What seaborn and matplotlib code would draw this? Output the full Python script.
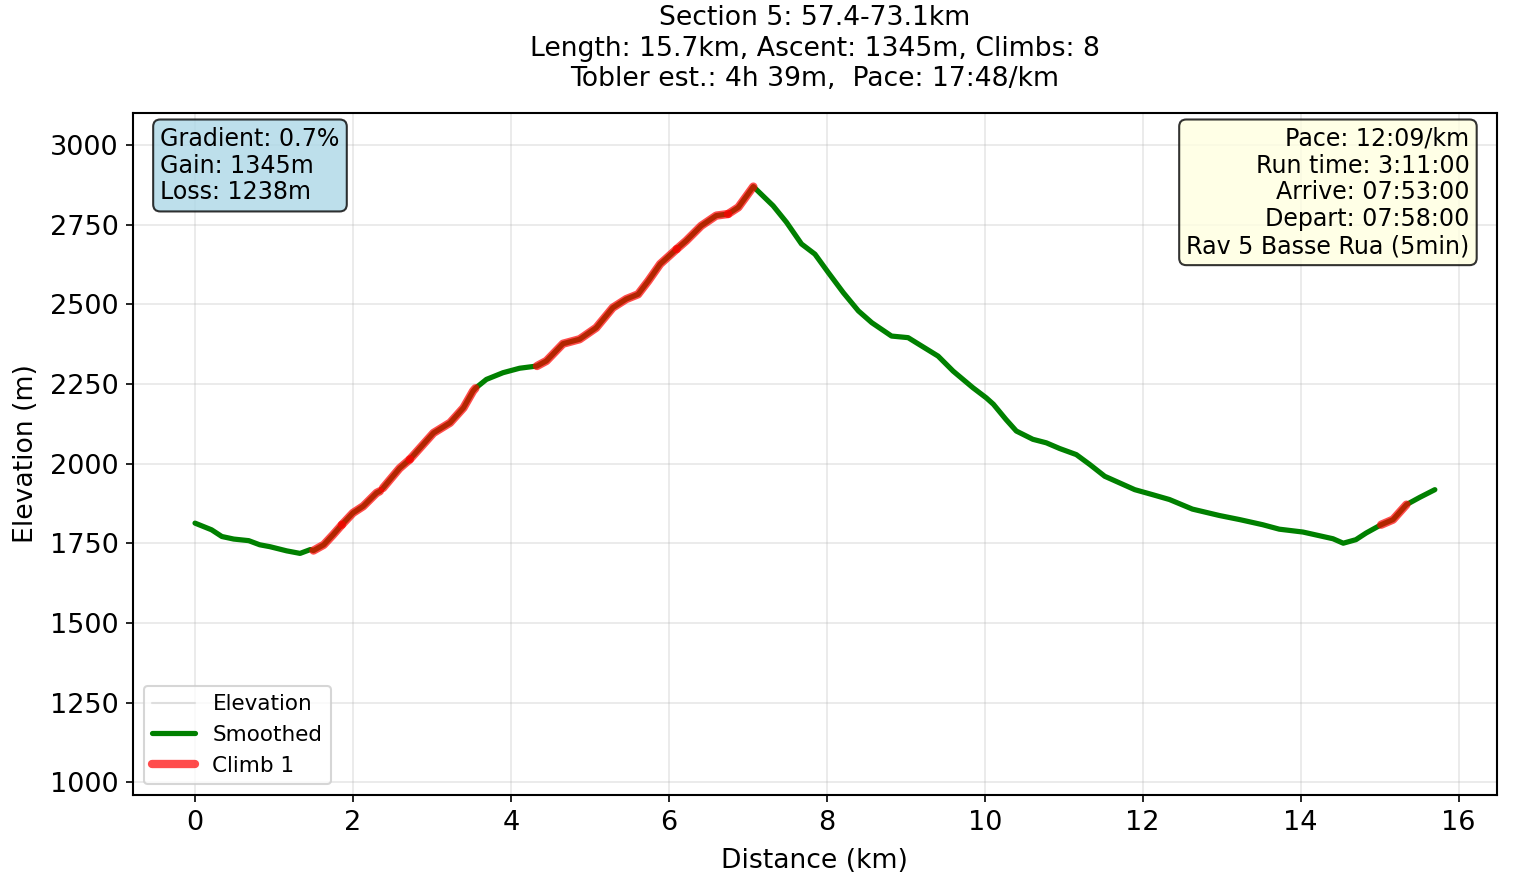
import numpy as np
import pandas as pd
import matplotlib
matplotlib.use("Agg")
import matplotlib.pyplot as plt
from matplotlib.ticker import MultipleLocator
import seaborn as sns

# ---- data ----
distance_km = [0.00, 0.21, 0.34, 0.49, 0.68, 0.82, 0.95, 1.16, 1.33, 1.46, 1.50,
               1.63, 1.75, 1.86, 2.00, 2.13, 2.30, 2.34, 2.38, 2.59, 2.72, 3.02,
               3.23, 3.40, 3.52, 3.55, 3.69, 3.90, 4.11, 4.33, 4.45, 4.66, 4.87,
               5.08, 5.29, 5.46, 5.61, 5.74, 5.89, 6.10, 6.22, 6.41, 6.60, 6.75,
               6.88, 7.07, 7.32, 7.49, 7.68, 7.85, 8.02, 8.21, 8.40, 8.57, 8.82,
               9.03, 9.20, 9.41, 9.60, 9.85, 10.02, 10.11, 10.27, 10.40, 10.61,
               10.78, 10.95, 11.16, 11.33, 11.52, 11.71, 11.90, 12.13, 12.34,
               12.63, 12.97, 13.23, 13.52, 13.73, 14.03, 14.41, 14.54, 14.70,
               14.83, 15.02, 15.17, 15.34, 15.51, 15.70]
elevation_m = [1813, 1792, 1771, 1763, 1758, 1745, 1739, 1726, 1718, 1730, 1727,
               1745, 1777, 1808, 1845, 1866, 1908, 1913, 1923, 1985, 2013, 2096,
               2128, 2175, 2227, 2236, 2264, 2285, 2299, 2306, 2322, 2376, 2390,
               2426, 2489, 2516, 2531, 2573, 2626, 2673, 2699, 2746, 2778, 2783,
               2804, 2869, 2809, 2757, 2689, 2657, 2599, 2536, 2479, 2442, 2400,
               2395, 2369, 2337, 2290, 2238, 2206, 2186, 2138, 2102, 2076,
               2065, 2047, 2028, 1997, 1960, 1939, 1918, 1902, 1887,
               1857, 1837, 1824, 1808, 1794, 1785, 1764, 1750, 1761,
               1782, 1808, 1824, 1871, 1894, 1918]
smoothed_m = elevation_m

climb_start_km = [1.50, 1.86, 2.38, 2.72, 4.33, 6.10, 6.75, 15.02]
climb_end_km = [1.86, 2.34, 2.72, 3.55, 6.10, 6.75, 7.07, 15.34]

title_lines = ["Section 5: 57.4-73.1km",
               "Length: 15.7km, Ascent: 1345m, Climbs: 8",
               "Tobler est.: 4h 39m,  Pace: 17:48/km"]
stats_lines = ["Gradient: 0.7%", "Gain: 1345m", "Loss: 1238m"]
info_lines = ["Pace: 12:09/km", "Run time: 3:11:00", "Arrive: 07:53:00",
              "Depart: 07:58:00", "Rav 5 Basse Rua (5min)"]

df = pd.DataFrame({"km": distance_km, "elev": elevation_m, "smooth": smoothed_m})

# ---- plot ----
sns.set_style("ticks", rc={
    "text.color": "black", "axes.labelcolor": "black",
    "xtick.color": "black", "ytick.color": "black",
    "axes.edgecolor": "black", "grid.color": "#b0b0b0",
    "xtick.major.size": 3.5, "ytick.major.size": 3.5,
})
plt.rcParams["font.family"] = ["DejaVu Sans"]

fig, ax = plt.subplots(figsize=(10.193, 5.887), dpi=150)
fig.subplots_adjust(left=0.087, right=0.979, top=0.872, bottom=0.0997)

sns.lineplot(data=df, x="km", y="elev", ax=ax, color="lightgray", lw=1,
             alpha=0.7, label="Elevation")
sns.lineplot(data=df, x="km", y="smooth", ax=ax, color="green", lw=2.5,
             label="Smoothed")
for i, (s, e) in enumerate(zip(climb_start_km, climb_end_km)):
    seg = df[(df["km"] >= s - 1e-9) & (df["km"] <= e + 1e-9)]
    sns.lineplot(data=seg, x="km", y="smooth", ax=ax, color="red", lw=4,
                 alpha=0.7, label=f"Climb {i+1}" if i == 0 else None,
                 legend=False)

ax.set_ylim(960, 3100)
ax.yaxis.set_major_locator(MultipleLocator(250))
ax.xaxis.set_major_locator(MultipleLocator(2))
ax.grid(True, alpha=0.3, color="#b0b0b0", lw=0.8)
ax.tick_params(labelsize=13)
for sp in ax.spines.values():
    sp.set_linewidth(1.0)
    sp.set_color("black")

ax.set_xlabel("Distance (km)", fontsize=12.8, labelpad=6)
ax.set_ylabel("Elevation (m)", fontsize=12.8, labelpad=5)
ax.set_title("\n".join(title_lines), fontsize=12.8, pad=13, linespacing=1.22)

ax.text(0.02, 0.98, "\n".join(stats_lines), transform=ax.transAxes,
        va="top", ha="left", fontsize=11.4, linespacing=1.15,
        bbox=dict(boxstyle="round", facecolor="lightblue", edgecolor="black",
                  alpha=0.8))
ax.text(0.98, 0.98, "\n".join(info_lines), transform=ax.transAxes,
        va="top", ha="right", multialignment="right", fontsize=11.4,
        linespacing=1.15,
        bbox=dict(boxstyle="round", facecolor="lightyellow", edgecolor="black",
                  alpha=0.8))

handles, labels = ax.get_legend_handles_labels()
ax.legend(handles, labels, loc="lower left", fontsize=10.3)

fig.savefig("out.png", dpi=150)
